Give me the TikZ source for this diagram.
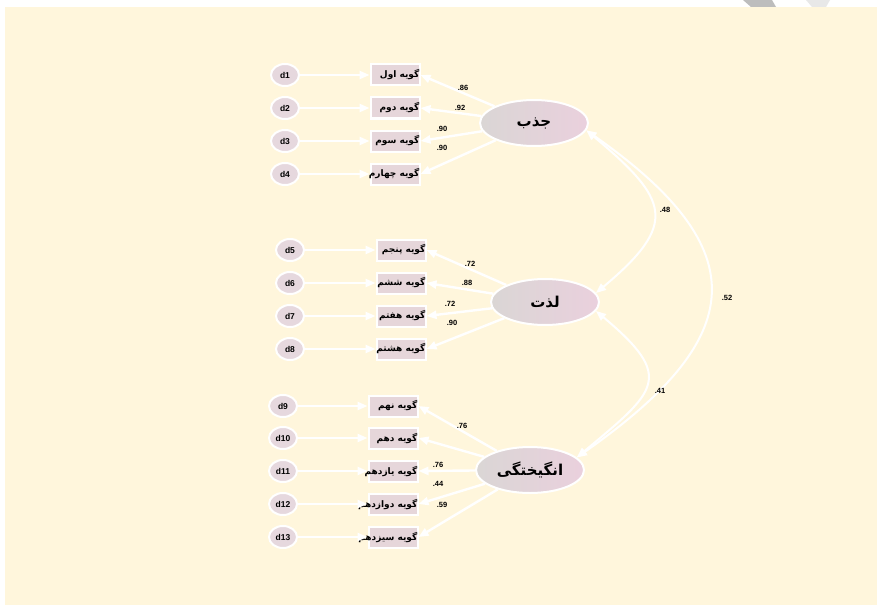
\documentclass[tikz,border=0pt]{standalone}
\usepackage{fontspec}
\setmainfont{Liberation Sans}
\newfontfamily\arabicfont[Script=Arabic]{DejaVu Sans}
\TeXXeTstate=1
\usetikzlibrary{shapes.geometric,arrows.meta}
\definecolor{cream}{HTML}{FFF6DC}
\definecolor{errfill}{HTML}{E6D8DE}
\definecolor{boxfill}{HTML}{E6D6DA}
\definecolor{latL}{HTML}{DAD6D5}
\definecolor{latR}{HTML}{EAD0DD}
\definecolor{wmark}{HTML}{BDBDBD}
\begin{document}
\begin{tikzpicture}[x=1pt,y=1pt,
  errnode/.style={ellipse, draw=white, line width=2pt, fill=errfill, minimum width=28pt, minimum height=22pt, inner sep=0pt, font=\bfseries\fontsize{8.5}{9}\selectfont},
  itembox/.style={rectangle, draw=white, line width=2pt, fill=boxfill, minimum width=49pt, minimum height=21pt, inner sep=0pt},
  itemtext/.style={anchor=east, inner sep=0pt, font=\arabicfont\bfseries\fontsize{9}{10}\selectfont},
  latent/.style={ellipse, draw=white, line width=2pt, left color=latL, right color=latR, minimum width=108pt, minimum height=46pt, inner sep=0pt, font=\arabicfont\bfseries\fontsize{15}{17}\selectfont},
  conn/.style={draw=white, line width=2.4pt, -{Triangle[length=10pt,width=8pt]}},
  cov/.style={draw=white, line width=2pt, {Triangle[length=10pt,width=8pt]}-{Triangle[length=10pt,width=8pt]}},
  coef/.style={font=\bfseries\fontsize{7.5}{8}\selectfont, inner sep=0pt}
]
\useasboundingbox (0,0) rectangle (877,-607);
\fill[white] (0,0) rectangle (877,-607);
\fill[cream] (5,-7) rectangle (877,-605);
\fill[wmark] (743,0) -- (772,0) -- (776,-7) -- (751,-7) -- cycle;
\fill[wmark!35] (806,0) -- (830,0) -- (826,-7) -- (812,-7) -- cycle;

% latent factors
\node[latent] (F1) at (534,-123) {\beginR جذب\endR};
\node[latent] (F2) at (545,-302) {\beginR لذت\endR};
\node[latent] (F3) at (530,-470) {\beginR انگیختگی\endR};

% group 1
\node[errnode] (d1) at (285,-75) {d1};
\node[errnode] (d2) at (285,-108) {d2};
\node[errnode] (d3) at (285,-141) {d3};
\node[errnode] (d4) at (285,-174) {d4};
\node[itembox] (b1) at (395,-75) {};
\node[itembox] (b2) at (395,-108) {};
\node[itembox] (b3) at (395,-141) {};
\node[itembox] (b4) at (395,-174) {};
\node[itemtext] (t1) at ([xshift=-1pt]b1.east) {\beginR گویه اول\endR};
\node[itemtext] (t2) at ([xshift=-1pt]b2.east) {\beginR گویه دوم\endR};
\node[itemtext] (t3) at ([xshift=-1pt]b3.east) {\beginR گویه سوم\endR};
\node[itemtext] (t4) at ([xshift=-1pt]b4.east) {\beginR گویه چهارم\endR};

% group 2
\node[errnode] (d5) at (290,-250) {d5};
\node[errnode] (d6) at (290,-283) {d6};
\node[errnode] (d7) at (290,-316) {d7};
\node[errnode] (d8) at (290,-349) {d8};
\node[itembox] (b5) at (401,-250) {};
\node[itembox] (b6) at (401,-283) {};
\node[itembox] (b7) at (401,-316) {};
\node[itembox] (b8) at (401,-349) {};
\node[itemtext] (t5) at ([xshift=-1pt]b5.east) {\beginR گویه پنجم\endR};
\node[itemtext] (t6) at ([xshift=-1pt]b6.east) {\beginR گویه ششم\endR};
\node[itemtext] (t7) at ([xshift=-1pt]b7.east) {\beginR گویه هفتم\endR};
\node[itemtext] (t8) at ([xshift=-1pt]b8.east) {\beginR گویه هشتم\endR};

% group 3
\node[errnode] (d9) at (283,-406) {d9};
\node[errnode] (d10) at (283,-438) {d10};
\node[errnode] (d11) at (283,-471) {d11};
\node[errnode] (d12) at (283,-504) {d12};
\node[errnode] (d13) at (283,-537) {d13};
\node[itembox] (b9) at (393,-406) {};
\node[itembox] (b10) at (393,-438) {};
\node[itembox] (b11) at (393,-471) {};
\node[itembox] (b12) at (393,-504) {};
\node[itembox] (b13) at (393,-537) {};
\node[itemtext] (t9) at ([xshift=-1pt]b9.east) {\beginR گویه نهم\endR};
\node[itemtext] (t10) at ([xshift=-1pt]b10.east) {\beginR گویه دهم\endR};
\node[itemtext] (t11) at ([xshift=-1pt]b11.east) {\beginR گویه یازدهم\endR};
\node[itemtext] (t12) at ([xshift=-1pt]b12.east) {\beginR گویه دوازدهم\endR};
\node[itemtext] (t13) at ([xshift=-1pt]b13.east) {\beginR گویه سیزدهم\endR};

% error arrows
\foreach \i in {1,...,13} { \draw[conn] (d\i) -- (b\i); }

% loadings
\foreach \i in {1,2,3,4} { \draw[conn] (F1) -- (b\i.east); }
\foreach \i in {5,6,7,8} { \draw[conn] (F2) -- (b\i.east); }
\foreach \i in {9,10,11,12,13} { \draw[conn] (F3) -- (b\i.east); }

% covariances
\draw[cov] (F1.-8) to[out=-40, in=40, looseness=1.7] (F2.10);
\draw[cov] (F2.-10) to[out=-40, in=40, looseness=1.8] (F3.15);
\draw[cov] (F1.-8) to[out=-35, in=35, looseness=1.63] (F3.15);

% loading labels
\node[coef] (l1) at (463,-88) {.86};
\node[coef] (l2) at (460,-108) {.92};
\node[coef] (l3) at (442,-129) {.90};
\node[coef] (l4) at (442,-148) {.90};
\node[coef] (l5) at (470,-264) {.72};
\node[coef] (l6) at (467,-283) {.88};
\node[coef] (l7) at (450,-304) {.72};
\node[coef] (l8) at (452,-323) {.90};
\node[coef] (l9) at (462,-426) {.76};
\node[coef] (l11) at (438,-465) {.76};
\node[coef] (l12) at (438,-484) {.44};
\node[coef] (l13) at (442,-505) {.59};

% covariance labels
\node[coef] (c12) at (665,-210) {.48};
\node[coef] (c13) at (727,-298) {.52};
\node[coef] (c23) at (660,-391) {.41};
\end{tikzpicture}
\end{document}
